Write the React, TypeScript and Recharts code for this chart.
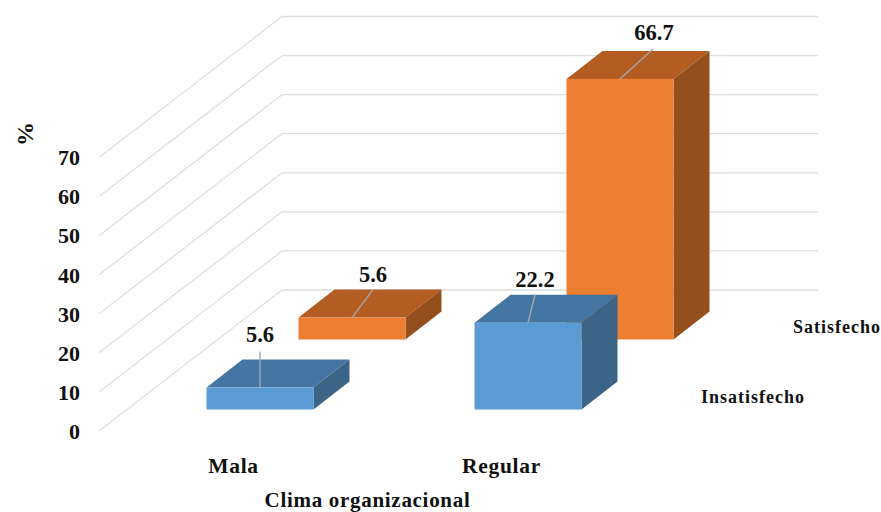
import React from "react";
import { BarChart, Bar, XAxis, YAxis, CartesianGrid } from "recharts";

const climaCategories = ["Mala", "Regular"];
const insatisfechoValues = [5.6, 22.2];
const satisfechoValues = [5.6, 66.7];
const valueTicks = [0, 10, 20, 30, 40, 50, 60, 70];

const rows = climaCategories.map((clima, i) => ({
  clima,
  Insatisfecho: insatisfechoValues[i],
  Satisfecho: satisfechoValues[i],
}));

// Oblique projection used for the depth axis
const WALL_DX = 183;
const WALL_DY = -141;
const BOX_DX = 36;
const BOX_DY = -28;
const FONT = "'Liberation Serif', 'Times New Roman', serif";

const blueFaces = { front: "#5B9BD5", top: "#4576A3", side: "#3B6487" };
const orangeFaces = { front: "#ED7D31", top: "#B35D22", side: "#954F1C" };

type LeaderOffset = { dx: number; dy: number; textDx: number; textDy: number };

const blueLeaders: LeaderOffset[] = [
  { dx: 0, dy: -36, textDx: 0, textDy: -46 },
  { dx: 7, dy: -28, textDx: 7, textDy: -36 },
];
const orangeLeaders: LeaderOffset[] = [
  { dx: 21, dy: -28, textDx: 21, textDy: -36 },
  { dx: 33, dy: -30, textDx: 34, textDy: -39 },
];

function makeBox(
  shiftX: number,
  shiftY: number,
  faces: { front: string; top: string; side: string },
  leaders: LeaderOffset[],
) {
  return function Box(props: any) {
    const { x, y, width, height, index, value } = props;
    const l = x + shiftX;
    const t = y + shiftY;
    const r = l + width;
    const b = t + height;
    const cx = l + width / 2;
    const leader = leaders[index];
    const shown = Array.isArray(value) ? value[1] : value;
    return (
      <g>
        <polygon
          points={`${l},${t} ${l + BOX_DX},${t + BOX_DY} ${r + BOX_DX},${t + BOX_DY} ${r},${t}`}
          fill={faces.top}
        />
        <polygon
          points={`${r},${t} ${r + BOX_DX},${t + BOX_DY} ${r + BOX_DX},${b + BOX_DY} ${r},${b}`}
          fill={faces.side}
        />
        <rect x={l} y={t} width={width} height={height} fill={faces.front} />
        <line
          x1={cx}
          y1={t}
          x2={cx + leader.dx}
          y2={t + leader.dy}
          stroke="#A6A6A6"
          strokeWidth={1.4}
        />
        <text
          x={cx + leader.textDx}
          y={t + leader.textDy}
          textAnchor="middle"
          fontFamily={FONT}
          fontWeight="bold"
          fontSize={22.5}
          fill="#111"
        >
          {shown}
        </text>
      </g>
    );
  };
}

// Each grid value runs up the side wall, then along the back wall
function wallLine(props: any) {
  const { x1, x2, y1, key } = props;
  return (
    <polyline
      key={key}
      points={`${x1},${y1} ${x1 + WALL_DX},${y1 + WALL_DY} ${x2 + WALL_DX},${y1 + WALL_DY}`}
      fill="none"
      stroke="#DEDEDE"
      strokeWidth={1.3}
    />
  );
}

const seriesCaptionStyle = {
  fontFamily: FONT,
  fontWeight: "bold" as const,
  fontSize: 18,
  fill: "#111",
  letterSpacing: 1,
};

export default function App() {
  return (
    <div style={{ position: "absolute", left: 0, top: 0, width: 881, height: 512, background: "#fff" }}>
      <BarChart
        width={881}
        height={512}
        data={rows}
        margin={{ top: 157.5, right: 246, bottom: 0, left: 39 }}
        barSize={107}
        barGap={-107}
      >
        <CartesianGrid horizontal={wallLine} vertical={false} />
        <XAxis
          dataKey="clima"
          axisLine={false}
          tickLine={false}
          height={81}
          tick={(p: any) => (
            <text
              x={p.x + 0.5}
              y={p.y + 34}
              textAnchor="middle"
              fontFamily={FONT}
              fontWeight="bold"
              fontSize={21.5}
              letterSpacing={0.7}
              fill="#111"
            >
              {p.payload.value}
            </text>
          )}
        />
        <YAxis
          type="number"
          domain={[0, 70]}
          ticks={valueTicks}
          interval={0}
          width={60}
          axisLine={false}
          tickLine={false}
          tickMargin={13}
          tick={{ fontFamily: FONT, fontWeight: "bold", fontSize: 22, fill: "#111" }}
        />
        <Bar dataKey="Satisfecho" isAnimationActive={false} shape={makeBox(118.5, -91.5, orangeFaces, orangeLeaders)} />
        <Bar dataKey="Insatisfecho" isAnimationActive={false} shape={makeBox(26.5, -21.5, blueFaces, blueLeaders)} />
        <text
          x={25}
          y={134}
          transform="rotate(-90 25 134)"
          textAnchor="middle"
          dominantBaseline="central"
          fontFamily={FONT}
          fontWeight="bold"
          fontSize={24}
          fill="#111"
        >
          %
        </text>
        <text x={367.5} y={507} textAnchor="middle" fontFamily={FONT} fontWeight="bold" fontSize={21} letterSpacing={0.7} fill="#111">
          Clima organizacional
        </text>
        <text x={793} y={333} style={seriesCaptionStyle}>
          Satisfecho
        </text>
        <text x={701} y={403} style={seriesCaptionStyle}>
          Insatisfecho
        </text>
      </BarChart>
    </div>
  );
}
